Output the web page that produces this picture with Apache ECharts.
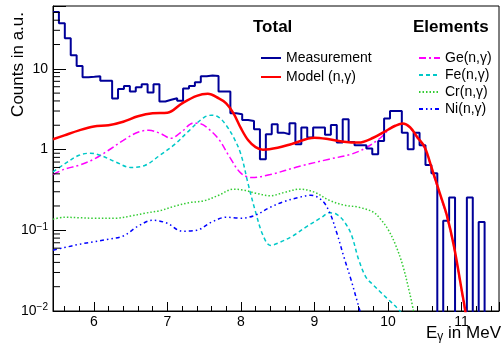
<!DOCTYPE html>
<html>
<head>
<meta charset="utf-8">
<script src="https://cdn.jsdelivr.net/npm/echarts@6/dist/echarts.min.js"></script>
<style>
  html, body { margin: 0; padding: 0; background: #fff; }
  #chart { width: 502px; height: 349px; }
</style>
</head>
<body>
<div id="chart"></div>
<script>
// measured histogram: first bin edge, bin width (MeV), counts per bin
const binStart = 5.445;
const binWidth = 0.0804;
const measured = [
  50.7, 36.6, 23.9, 14.7, 10.8, 7.85, 7.96, 8.08, 7.14, 7.14,
  4.28, 5.62, 6.13, 5.22, 5.9, 6.43, 5.08, 6.43, 3.93, 4.13,
  4.31, 4.02, 5.71, 6.13, 6.81, 8.08, 8.24, 8.15, 5.22, 5.22,
  2.81, 2.74, 2.32, 2.26, 1.78, 0.76, 1.55, 2.06, 1.62, 1.55,
  2.12, 1.16, 1.87, 1.41, 1.87, 1.87, 1.52, 2.02, 1.22, 2.37,
  1.24, 1.13, 1.13, 1.03, 0.875, 1.28, 2.42, 3.0, 3.0, 1.62,
  1.01, 1.62, 1.13, 0.645, 0.509, 0, 0.131, 0.255, 0, 0,
  0.255, 0, 0.127, 0, 0, 0
];

// model (n,gamma) sum curve
const modelX = [5.445, 5.6, 5.8, 6.0, 6.2, 6.4, 6.6, 6.8, 7.0, 7.2, 7.4, 7.55, 7.7, 7.8, 7.9, 8.0, 8.1, 8.2, 8.3, 8.5, 8.7, 9.0, 9.2, 9.4, 9.6, 9.8, 10.0, 10.1, 10.2, 10.3, 10.4, 10.5, 10.6, 10.7, 10.8, 10.9, 11.0, 11.05, 11.08];
const modelY = [1.34, 1.5, 1.73, 1.93, 2.0, 2.21, 2.58, 2.81, 2.85, 3.74, 4.63, 4.9, 4.3, 3.74, 2.81, 1.84, 1.3, 1.07, 0.995, 1.05, 1.18, 1.4, 1.34, 1.25, 1.22, 1.4, 1.76, 1.97, 2.1, 1.89, 1.42, 1.07, 0.57, 0.296, 0.154, 0.0618, 0.0187, 0.0102, 0.006];

// element contributions
const geX = [5.445, 5.6, 5.8, 6.0, 6.2, 6.4, 6.6, 6.75, 6.9, 7.05, 7.2, 7.35, 7.45, 7.55, 7.7, 7.85, 8.0, 8.15, 8.4, 8.8, 9.2, 9.5, 9.7, 9.9, 10.05, 10.2, 10.3, 10.4, 10.5, 10.6, 10.7, 10.8, 10.9, 11.0, 11.05, 11.08];
const geY = [0.49, 0.57, 0.64, 0.76, 0.98, 1.3, 1.64, 1.73, 1.59, 1.38, 1.68, 2.12, 2.09, 1.84, 1.34, 0.8, 0.51, 0.45, 0.49, 0.62, 0.76, 0.875, 1.05, 1.4, 1.89, 2.09, 1.85, 1.38, 1.03, 0.55, 0.285, 0.148, 0.0595, 0.018, 0.0098, 0.006];

const feX = [5.445, 5.6, 5.8, 5.95, 6.1, 6.3, 6.5, 6.7, 6.9, 7.1, 7.3, 7.5, 7.6, 7.7, 7.8, 7.9, 8.0, 8.1, 8.2, 8.3, 8.4, 8.5, 8.7, 8.9, 9.1, 9.2, 9.3, 9.4, 9.5, 9.6, 9.7, 9.8, 9.9, 10.0, 10.1, 10.2];
const feY = [0.53, 0.66, 0.85, 0.9, 0.84, 0.7, 0.6, 0.64, 0.85, 1.16, 1.73, 2.51, 2.66, 2.51, 2.0, 1.42, 0.875, 0.37, 0.168, 0.087, 0.065, 0.069, 0.0845, 0.112, 0.145, 0.165, 0.158, 0.13, 0.0895, 0.0439, 0.0263, 0.021, 0.0171, 0.014, 0.0115, 0.0091];

const crX = [5.445, 5.6, 5.8, 6.0, 6.3, 6.5, 6.7, 6.9, 7.1, 7.3, 7.5, 7.7, 7.9, 8.05, 8.2, 8.4, 8.6, 8.8, 9.0, 9.2, 9.4, 9.6, 9.8, 9.9, 10.0, 10.1, 10.2, 10.3, 10.35];
const crY = [0.137, 0.145, 0.143, 0.141, 0.141, 0.15, 0.163, 0.175, 0.199, 0.22, 0.232, 0.272, 0.323, 0.313, 0.288, 0.268, 0.296, 0.323, 0.296, 0.236, 0.205, 0.193, 0.168, 0.137, 0.103, 0.067, 0.037, 0.016, 0.0097];

const niX = [5.445, 5.6, 5.8, 6.0, 6.2, 6.4, 6.6, 6.8, 7.0, 7.2, 7.4, 7.6, 7.8, 8.0, 8.2, 8.4, 8.6, 8.8, 8.95, 9.1, 9.2, 9.3, 9.4, 9.5, 9.6, 9.65];
const niY = [0.0567, 0.061, 0.067, 0.072, 0.0776, 0.085, 0.112, 0.133, 0.122, 0.0975, 0.1, 0.126, 0.145, 0.141, 0.154, 0.193, 0.229, 0.257, 0.272, 0.236, 0.172, 0.0954, 0.047, 0.024, 0.0115, 0.008];

const xMin = 5.445, xMax = 11.51;
const yMin = 0.01, yMax = 60;

const FONT = '"Liberation Sans", Arial, Helvetica, sans-serif';

const zip = (xs, ys) => xs.map((x, i) => [x, ys[i]]);

// histogram as step line through the bin edges; empty bins drop below the frame
const histPts = measured.map((v, i) => [binStart + i * binWidth, v > 0 ? v : 1e-4]);
histPts.push([binStart + measured.length * binWidth, 1e-4]);

// minor ticks of the log axis
const minorY = [];
for (let e = -2; e <= 1; e++) {
  for (let m = 2; m <= 9; m++) {
    const v = m * Math.pow(10, e);
    if (v < yMax) minorY.push([xMin, v]);
  }
}

const chart = echarts.init(document.getElementById('chart'));

const curve = (name, data, color, width, type, z) => ({
  name, type: 'line', data, smooth: 0.35, showSymbol: false, symbol: 'none',
  clip: true, z,
  lineStyle: { color, width, type },
  itemStyle: { color }
});

// legend: line sample only, hide the marker
const legendBase = {
  orient: 'vertical', itemHeight: 12,
  itemStyle: { color: 'rgba(0,0,0,0)', borderWidth: 0, opacity: 0 },
  textStyle: { fontSize: 14, lineHeight: 14, fontFamily: FONT, color: '#000' }
};

chart.setOption({
  animation: false,
  textStyle: { fontFamily: FONT },
  grid: { left: 53, top: 6, right: 1, bottom: 38, show: true, borderColor: '#000', borderWidth: 1, backgroundColor: 'transparent' },
  xAxis: {
    type: 'value', min: xMin, max: xMax,
    axisLine: { lineStyle: { color: '#000', width: 1 } },
    axisTick: { inside: true, length: 9, lineStyle: { color: '#000' } },
    minorTick: { show: true, splitNumber: 5, length: 5, lineStyle: { color: '#000' } },
    splitLine: { show: false },
    axisLabel: {
      color: '#000', fontSize: 14, fontFamily: FONT, margin: 4,
      formatter: v => Math.abs(v - Math.round(v)) < 1e-6 ? String(Math.round(v)) : ''
    }
  },
  yAxis: {
    type: 'log', logBase: 10, min: yMin, max: yMax,
    axisLine: { show: true, lineStyle: { color: '#000', width: 1 } },
    axisTick: { inside: true, length: 13, lineStyle: { color: '#000' } },
    splitLine: { show: false },
    axisLabel: {
      color: '#000', fontSize: 14, fontFamily: FONT, margin: 5,
      formatter: v => {
        const l = Math.log10(v), e = Math.round(l);
        if (Math.abs(l - e) > 1e-6) return '';
        if (e === 0) return '1';
        if (e === 1) return '10';
        return '10{sup|\u2212' + (-e) + '}';
      },
      rich: {
        sup: { fontSize: 10, fontFamily: FONT, color: '#000', verticalAlign: 'top', padding: [0, 0, 7, 0] }
      }
    }
  },
  legend: [
    Object.assign({}, legendBase, {
      left: 255, top: 46, itemWidth: 20, itemGap: 5,
      data: ['Measurement', 'Model (n,\u03b3)']
    }),
    Object.assign({}, legendBase, {
      left: 413, top: 46, itemWidth: 21, itemGap: 3,
      data: ['Ge(n,\u03b3)', 'Fe(n,\u03b3)', 'Cr(n,\u03b3)', 'Ni(n,\u03b3)']
    })
  ],
  graphic: [
    { type: 'text', left: 253, top: 19, style: { text: 'Total', font: 'bold 17px ' + FONT, fill: '#000' } },
    { type: 'text', left: 413, top: 19, style: { text: 'Elements', font: 'bold 17px ' + FONT, fill: '#000' } },
    {
      type: 'text', x: 27, y: 12, rotation: Math.PI / 2,
      style: { text: 'Counts in a.u.', font: '17px ' + FONT, fill: '#000', align: 'right', verticalAlign: 'bottom' }
    },
    {
      type: 'text', right: 1, top: 325,
      style: {
        text: 'E{sub|\u03b3} in MeV', font: '17px ' + FONT, fill: '#000',
        rich: { sub: { font: '12px ' + FONT, fill: '#000', verticalAlign: 'bottom', padding: [6, 0, 0, 0] } }
      }
    }
  ],
  series: [
    curve('Ge(n,\u03b3)', zip(geX, geY), '#ff00ff', 1.5, [7, 3, 2, 3], 2),
    curve('Fe(n,\u03b3)', zip(feX, feY), '#00c8c8', 1.5, [4, 3], 2),
    curve('Cr(n,\u03b3)', zip(crX, crY), '#33cc33', 1.5, [1.5, 2], 2),
    curve('Ni(n,\u03b3)', zip(niX, niY), '#0000ff', 1.5, [4, 3, 1.5, 3, 1.5, 3], 2),
    {
      name: 'Measurement', type: 'line', data: histPts, step: 'end',
      showSymbol: false, symbol: 'none', clip: true, z: 3,
      lineStyle: { color: '#000099', width: 2 }, itemStyle: { color: '#000099' }
    },
    curve('Model (n,\u03b3)', zip(modelX, modelY), '#ff0000', 2.5, 'solid', 4),
    {
      type: 'custom', silent: true, z: 5, data: minorY,
      encode: { x: 0, y: 1 },
      renderItem: (params, api) => {
        const p = api.coord([api.value(0), api.value(1)]);
        return { type: 'line', shape: { x1: p[0], y1: p[1], x2: p[0] + 7, y2: p[1] }, style: { stroke: '#000', lineWidth: 1 } };
      }
    }
  ]
});
</script>
</body>
</html>
